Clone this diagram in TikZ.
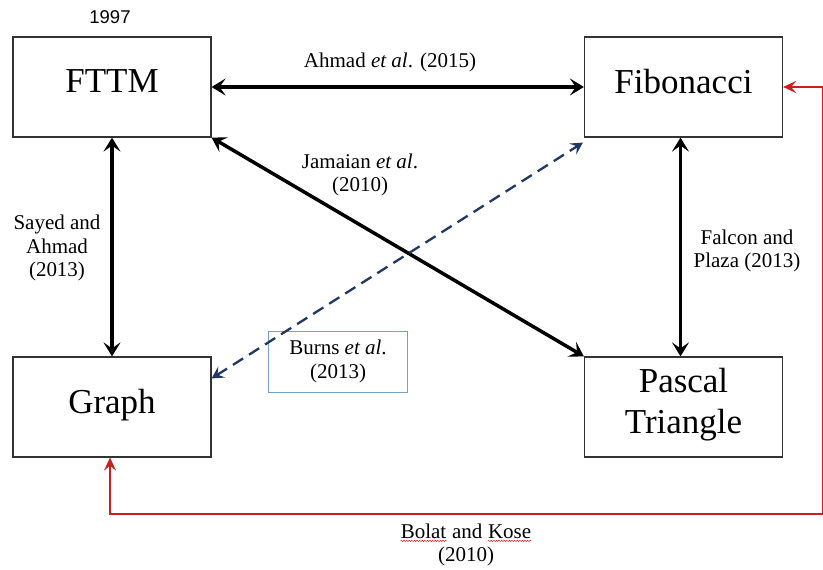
\documentclass[tikz,border=0pt]{standalone}
\usepackage{fontspec}
\setmainfont{Liberation Serif}
\newfontfamily\arialf{Liberation Sans}
\usetikzlibrary{arrows.meta,decorations.pathmorphing}
\definecolor{navy}{RGB}{31,56,100}
\definecolor{redl}{RGB}{205,30,30}
\definecolor{boxblue}{RGB}{120,160,200}
\definecolor{boxline}{RGB}{50,50,50}
\newcommand\wavyw[1]{\tikz[baseline=(W.base)]{\node[inner sep=0pt](W){#1};\draw[redl,line width=0.5pt,decorate,decoration={snake,amplitude=0.6pt,segment length=2.6pt}] ([yshift=-2.6pt]W.base west) -- ([yshift=-2.6pt]W.base east);}}
\tikzset{
  bigbox/.style={draw=boxline, line width=1.2pt, minimum width=198pt, minimum height=100pt,
    inner sep=0pt, align=center, text depth=12pt, font=\fontsize{35}{41}\selectfont},
  lbl/.style={inner sep=0pt, align=center, font=\fontsize{21}{23.5}\selectfont},
  burnsbox/.style={draw=boxblue, line width=0.8pt, minimum width=139pt, minimum height=61pt,
    inner sep=0pt, align=center, font=\fontsize{21}{24}\selectfont},
  blk/.style={line width=3.5pt, black, {Stealth[length=14pt,width=17pt,inset=6pt]}-{Stealth[length=14pt,width=17pt,inset=6pt]}},
  dsh/.style={line width=2.3pt, navy, dash pattern=on 12pt off 7pt, {Stealth[length=12pt,width=13pt,inset=5pt]}-{Stealth[length=12pt,width=13pt,inset=5pt]}},
  rdl/.style={line width=2.4pt, redl, {Stealth[length=13pt,width=12pt,inset=5pt]}-{Stealth[length=13pt,width=12pt,inset=5pt]}},
}
\begin{document}
\begin{tikzpicture}[x=1pt,y=-1pt]
\useasboundingbox (0,0) rectangle (823,570);
\fill[white] (0,0) rectangle (823,570);
% boxes
\node[bigbox] (fttm) at (112,87) {FTTM};
\node[bigbox] (fib) at (683.5,87) {Fibonacci};
\node[bigbox] (graph) at (112,407) {Graph};
\node[bigbox] (pascal) at (683.5,407) {Pascal\\Triangle};
% labels
\node[inner sep=0pt, font=\arialf\fontsize{18.5}{20}\selectfont] (yr) at (110,17) {1997};
\node[lbl] (ahmad) at (390,62) {Ahmad \textit{et al}. (2015)};
\node[lbl] (jam) at (360,175) {Jamaian \textit{et al}.\\(2010)};
\node[lbl] (sayed) at (57,248) {Sayed and\\Ahmad\\(2013)};
\node[lbl] (falcon) at (747,251) {Falcon and\\Plaza (2013)};
\node[burnsbox] (burns) at (338,361.5) {Burns \textit{et al}.\\(2013)};
\node[lbl] (bolat) at (466,545) {\wavyw{Bolat} and \wavyw{Kose}\\(2010)};
% connectors
\draw[blk] (fttm.east) -- (fib.west);
\draw[blk] (fttm.south) -- (graph.north);
\draw[blk] ([xshift=-3pt]fib.south) -- ([xshift=-3pt]pascal.north);
\draw[blk] (fttm.south east) -- (pascal.north west);
\draw[dsh] (graph.16) -- ([xshift=-1pt,yshift=-5pt]fib.south west);
\coordinate (r1) at (823,87);
\coordinate (r2) at (823,514);
\coordinate (r3) at (110,514);
\draw[rdl] (fib.east) -- (r1) -- (r2) -- (r3) -- ([xshift=-2pt]graph.south);
\end{tikzpicture}
\end{document}
